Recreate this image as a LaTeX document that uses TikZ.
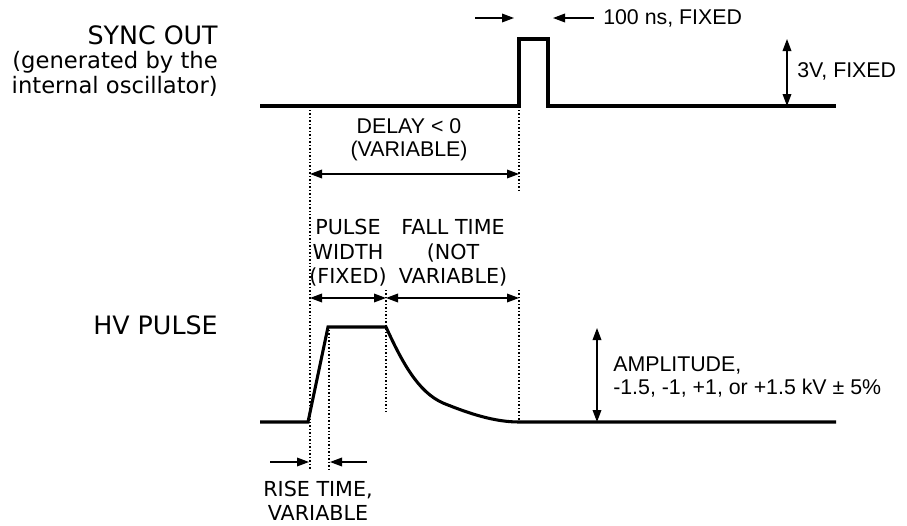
\documentclass[tikz,border=0pt]{standalone}
\usepackage{fontspec}
\setmainfont{DejaVu Sans}
\newfontfamily\arialfont{Liberation Sans}
\usetikzlibrary{arrows.meta}

\begin{document}
\begin{tikzpicture}[x=0.75pt, y=-0.75pt, >={Triangle[length=9pt, width=6.5pt]},
  wave/.style={line width=2.3pt, line join=miter},
  dim/.style={<->, line width=1pt},
  arr/.style={->, line width=1pt},
  guide/.style={line width=1pt, dash pattern=on 1.1pt off 1.5pt},
  sigtext/.style={font=\fontsize{17}{18.5}\selectfont, align=right, anchor=east, inner sep=0pt},
  note/.style={font=\fontsize{15.5}{18.3}\selectfont, align=center, inner sep=0pt},
  notearial/.style={font=\arialfont\fontsize{16}{17.5}\selectfont, align=left, inner sep=0pt}]
  \useasboundingbox (0,0) rectangle (907,525);

  % Signal names
  \node[sigtext] (sync) at (218,61) {{\fontsize{19}{18.5}\selectfont SYNC OUT}\\(generated by the\\internal oscillator)};
  \node[sigtext, font=\fontsize{19}{20}\selectfont] (hv) at (218,325) {HV PULSE};

  % Waveforms
  \draw[wave] (260,106) -- (519,106) -- (519,39) -- (548,39) -- (548,106) -- (836,106);
  \draw[wave] (260,422) -- (308,422) -- (328,327) -- (386,327)
    .. controls (402,362) and (418,392) .. (443,403)
    .. controls (470,414) and (495,422) .. (519,422) -- (836,422);

  % Guide lines
  \draw[guide] (310,110) -- (310,470);
  \draw[guide] (519,110) -- (519,192);
  \draw[guide] (386,290) -- (386,412);
  \draw[guide] (519,290) -- (519,420);
  \draw[guide] (329,330) -- (329,470);

  % Sync pulse width and height
  \coordinate (wL0) at (475,18);  \coordinate (wL1) at (514,18);
  \coordinate (wR0) at (594,18);  \coordinate (wR1) at (553,18);
  \draw[arr] (wL0) -- (wL1);
  \draw[arr] (wR0) -- (wR1);
  \node[notearial, anchor=west] (width) at (603,18) {100 ns, FIXED};
  \coordinate (hTop) at (787,39);  \coordinate (hBot) at (787,106);
  \draw[dim] (hTop) -- (hBot);
  \node[notearial, anchor=west] (height) at (797,71) {3V, FIXED};

  % Delay
  \coordinate (dlyL) at (310,174);  \coordinate (dlyR) at (519,174);
  \draw[dim] (dlyL) -- (dlyR);
  \node[notearial, align=center] (delay) at (409,140) {DELAY < 0\\(VARIABLE)};

  % Pulse width and fall time
  \coordinate (pwL) at (310,298);  \coordinate (pwR) at (386,298);
  \coordinate (ftR) at (519,298);
  \draw[dim] (pwL) -- (pwR);
  \draw[dim] (pwR) -- (ftR);
  \node[note] (pw) at (348,253) {PULSE\\WIDTH\\(FIXED)};
  \node[note] (ft) at (453,253) {FALL TIME\\(NOT\\VARIABLE)};

  % Amplitude
  \coordinate (aTop) at (597,328);  \coordinate (aBot) at (597,422);
  \draw[dim] (aTop) -- (aBot);
  \node[notearial, anchor=west] (amp) at (613,377) {AMPLITUDE,\\-1.5, -1, +1, or +1.5 kV ± 5\%};

  % Rise time
  \coordinate (rL0) at (270,462);  \coordinate (rL1) at (309,462);
  \coordinate (rR0) at (367,462);  \coordinate (rR1) at (330,462);
  \draw[arr] (rL0) -- (rL1);
  \draw[arr] (rR0) -- (rR1);
  \node[note] (rise) at (318,501) {RISE TIME,\\VARIABLE};
\end{tikzpicture}
\end{document}
